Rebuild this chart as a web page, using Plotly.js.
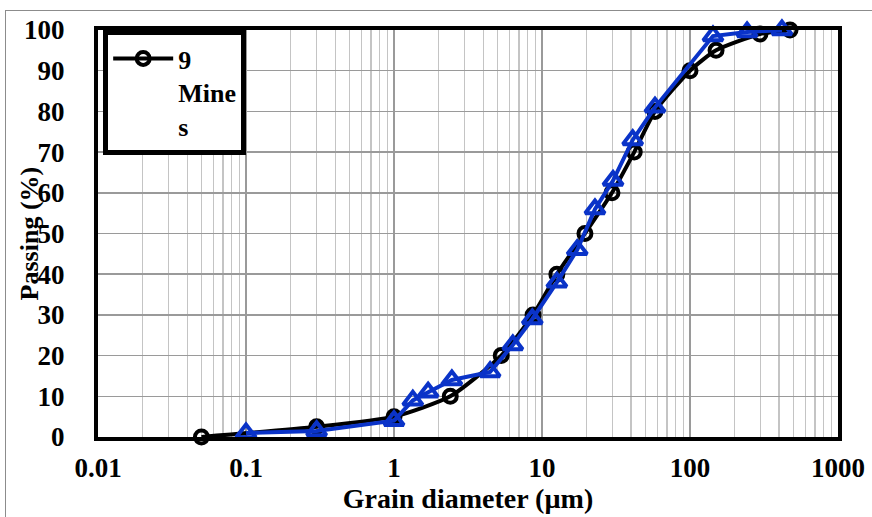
<!DOCTYPE html>
<html><head><meta charset="utf-8">
<script src="https://cdn.plot.ly/plotly-3.0.1.min.js"></script>
<style>
html,body{margin:0;padding:0;background:#fff;}
#wrap{position:absolute;left:0;top:0;width:872px;height:517px;overflow:hidden;}
#frame{position:absolute;left:5px;top:10px;width:880px;height:520px;border:1.5px solid #8c8c8c;pointer-events:none;}
#chart{position:absolute;left:0;top:0;width:872px;height:517px;}
</style></head>
<body>
<div id="wrap"><div id="chart"></div><div id="frame"></div></div>
<script>
const blackX = [0.05, 0.3, 1, 2.4, 5.3, 8.7, 12.6, 19.5, 29.7, 42, 58, 100, 150, 297, 474];
const blackY = [0, 2.5, 5, 10, 20, 30, 40, 50, 60, 70, 80, 90, 95, 99, 100];
const blueX = [0.1, 0.3, 1, 1.34, 1.7, 2.46, 4.46, 6.35, 8.6, 12.6, 17.3, 22.8, 30.2, 41, 58, 143, 243, 418];
const blueY = [1, 1.5, 4, 9, 11, 14, 16, 22.6, 29, 38, 46, 56, 63, 73, 81, 98.5, 99.5, 100];
const legendName = "9<br>Mine<br>s";
const xTickVals = [0.01, 0.1, 1, 10, 100, 1000];
const xTickText = ["0.01", "0.1", "1", "10", "100", "1000"];
const yTitle = "Passing (%)";

const font = "'Liberation Serif', 'Times New Roman', serif";
const traces = [
  {x: blackX, y: blackY, type: 'scatter', mode: 'lines+markers', name: legendName,
   line: {color: '#000', width: 4, shape: 'spline', smoothing: 0.6},
   marker: {symbol: 'circle-open', size: 13, color: '#000', line: {width: 4, color: '#000'}},
   cliponaxis: false, showlegend: true},
  {x: blueX, y: blueY, type: 'scatter', mode: 'lines+markers', name: 'blue',
   line: {color: '#0a33c8', width: 4},
   marker: {symbol: 'triangle-up-open', size: 17, color: '#0a33c8', line: {width: 4, color: '#0a33c8'}},
   cliponaxis: false, showlegend: false}
];
const layout = {
  width: 872, height: 517,
  margin: {l: 98, r: 34, t: 30, b: 80},
  paper_bgcolor: '#fff', plot_bgcolor: '#fff',
  font: {family: font, color: '#000', size: 20},
  showlegend: true,
  legend: {x: 0.007, y: 1.0, xanchor: 'left', yanchor: 'top', valign: 'top',
           bgcolor: '#fff', bordercolor: '#000', borderwidth: 5,
           font: {family: font, size: 26, color: '#000', weight: 'bold'},
           itemwidth: 60, tracegroupgap: 0},
  xaxis: {type: 'log', range: [-2, 3], tickvals: xTickVals, ticktext: xTickText,
          tickfont: {family: font, size: 27, weight: 'bold'},
          showgrid: true, gridcolor: '#9a9a9a', gridwidth: 1.5,
          minor: {dtick: 'D1', showgrid: true, gridcolor: '#c4c4c4', gridwidth: 1.2, ticks: ''},
          showline: true, linecolor: '#000', linewidth: 4, mirror: true,
          ticks: '', zeroline: false, ticklabelstandoff: 4,
          title: {text: 'Grain diameter (µm)', font: {family: font, size: 28, weight: 'bold'}, standoff: 0}},
  yaxis: {range: [0, 100], dtick: 10, tick0: 0,
          tickfont: {family: font, size: 27, weight: 'bold'},
          showgrid: true, gridcolor: '#9a9a9a', gridwidth: 1.5,
          showline: true, linecolor: '#000', linewidth: 4, mirror: true,
          ticks: '', ticklabelstandoff: 24, zeroline: false,
          title: {text: ''}},
  annotations: [{text: yTitle, xref: 'paper', yref: 'paper', x: -0.092, y: 0.5,
                 xanchor: 'center', yanchor: 'middle', textangle: -90, showarrow: false,
                 font: {family: font, size: 26, weight: 'bold', color: '#000'}}]
};
Plotly.newPlot('chart', traces, layout, {displayModeBar: false, staticPlot: true});
</script>
</body></html>
